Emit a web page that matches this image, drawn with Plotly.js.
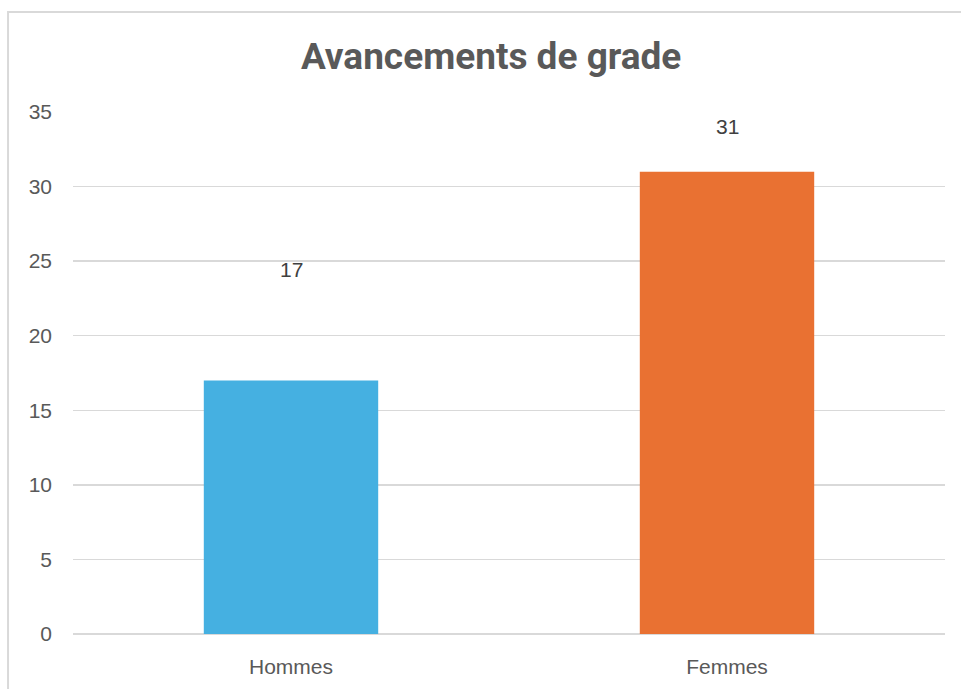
<!DOCTYPE html>
<html>
<head>
<meta charset="utf-8">
<script src="https://cdn.plot.ly/plotly-3.0.1.min.js"></script>
<style>html,body{margin:0;padding:0;background:#fff;}#chart{width:961px;height:689px;}</style>
</head>
<body>
<div id="chart"></div>
<script>
const categories = ["Hommes", "Femmes"];
const values = [17, 31];
const barColors = ["#45B0E1", "#E97132"];
const yTicks = [0, 5, 10, 15, 20, 25, 30, 35];

const labelShift = [111, 45];

const trace = {
  type: "bar",
  x: categories,
  y: values,
  marker: { color: barColors },
  hoverinfo: "none"
};

const annotations = categories.map((c, i) => ({
  x: c, y: values[i], xref: "x", yref: "y",
  text: String(values[i]), showarrow: false,
  yanchor: "middle", yshift: labelShift[i],
  font: { family: "Liberation Sans, Arial, sans-serif", size: 21, color: "#404040" }
}));

const layout = {
  width: 961, height: 689,
  margin: { l: 73, r: 16, t: 112, b: 55 },
  paper_bgcolor: "#ffffff", plot_bgcolor: "#ffffff",
  showlegend: false,
  bargap: 0.6,
  title: {
    text: "<b>Avancements de grade</b>",
    x: 0.4795, xref: "paper", xanchor: "center",
    y: 58, yref: "container", yanchor: "middle",
    font: { family: "Roboto, Liberation Sans, sans-serif", size: 37, color: "#595959" }
  },
  xaxis: {
    type: "category",
    showgrid: false, zeroline: false,
    showline: false, ticks: "",
    ticklabelstandoff: 18,
    tickfont: { family: "Liberation Sans, Arial, sans-serif", size: 21, color: "#595959" }
  },
  yaxis: {
    range: [0, 35],
    tickvals: yTicks,
    showgrid: true, gridcolor: "#d9d9d9", gridwidth: 1.5,
    zeroline: true, zerolinecolor: "#d9d9d9", zerolinewidth: 1.5,
    showline: false, ticks: "",
    ticklabelstandoff: 20,
    tickfont: { family: "Liberation Sans, Arial, sans-serif", size: 21, color: "#595959" }
  },
  shapes: [{
    type: "rect", xref: "paper", yref: "paper",
    x0: -0.0745, x1: 1.1, y0: -0.3, y1: 1.1916,
    line: { color: "#d9d9d9", width: 2 }, fillcolor: "rgba(0,0,0,0)", layer: "below"
  }],
  annotations: annotations
};

Plotly.newPlot("chart", [trace], layout, { displayModeBar: false, staticPlot: true });
</script>
</body>
</html>
